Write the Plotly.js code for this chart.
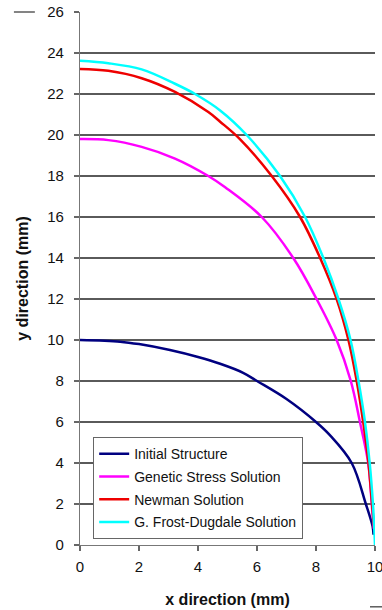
<!DOCTYPE html>
<html>
<head>
<meta charset="utf-8">
<script src="https://cdn.plot.ly/plotly-3.0.1.min.js"></script>
<style>html,body{margin:0;padding:0;background:#fff;}#chart{width:382px;height:610px;}</style>
</head>
<body>
<div id="chart"></div>
<script>
// Series data
var seriesNames = ["Initial Structure", "Genetic Stress Solution", "Newman Solution", "G. Frost-Dugdale Solution"];
var initialX = [0, 1.36, 2, 3.05, 4, 4.75, 5.53, 6, 7, 8, 8.47, 9.21, 9.69, 9.92, 9.95];
var initialY = [10, 9.92, 9.8, 9.51, 9.17, 8.84, 8.40, 8.0, 7.12, 6.0, 5.36, 4.0, 2.0, 0.9, 0.5];
var geneticX = [0, 0.96, 2.09, 3.22, 4.35, 4.92, 6.16, 7.23, 8.02, 8.70, 9.18, 9.49, 9.77, 9.89, 9.96];
var geneticY = [19.8, 19.75, 19.42, 18.85, 18.0, 17.45, 16, 14, 12, 10, 8, 6, 4, 2, 0.8];
var newmanX = [0, 0.96, 2.09, 3.22, 4.35, 4.75, 5.42, 6.5, 7.46, 8.14, 8.70, 9.10, 9.38, 9.60, 9.78, 9.90, 9.97];
var newmanY = [23.22, 23.13, 22.77, 22.1, 21.12, 20.65, 19.8, 18, 16, 14, 12, 10, 8, 6, 4, 2, 0.8];
var frostX = [0, 0.96, 2.09, 3.22, 3.9, 4.75, 5.65, 6.78, 7.63, 8.25, 8.76, 9.17, 9.44, 9.66, 9.82, 9.93, 10];
var frostY = [23.62, 23.5, 23.2, 22.5, 22.0, 21.2, 20, 18, 16, 14, 12, 10, 8, 6, 4, 2, 0];
var xTicks = [0, 2, 4, 6, 8, 10];
var yTicks = [0, 2, 4, 6, 8, 10, 12, 14, 16, 18, 20, 22, 24, 26];
var xRange = [0, 10];
var yRange = [0, 26];

var colors = ["#000080", "#FF00FF", "#EE0000", "#00FFFF"];
var xs = [initialX, geneticX, newmanX, frostX];
var ys = [initialY, geneticY, newmanY, frostY];

var font = "Arial, 'Liberation Sans', sans-serif";

var traces = [];
seriesNames.forEach(function (n, i) {
  traces.push({
    x: xs[i], y: ys[i], name: n, type: "scatter", mode: "lines",
    line: {color: colors[i], width: 2.5, shape: "spline", smoothing: 1},
    legendgroup: "g" + i
  });
});

var layout = {
  width: 382, height: 610,
  margin: {l: 80, r: 7, t: 12, b: 65, pad: 0},
  paper_bgcolor: "#fff", plot_bgcolor: "#fff",
  font: {family: font, color: "#111", size: 15},
  showlegend: true,
  legend: {
    x: 0.044, y: 0.2026, xanchor: "left", yanchor: "top",
    bgcolor: "#fff", bordercolor: "#666", borderwidth: 1.2,
    font: {family: font, size: 14, color: "#111"},
    tracegroupgap: 1.5, traceorder: "grouped"
  },
  xaxis: {
    range: xRange, tickvals: xTicks, ticktext: xTicks.map(String),
    showgrid: false, zeroline: false,
    showline: true, linecolor: "#777", linewidth: 1.2,
    ticks: "outside", ticklen: 5, tickwidth: 1.5, tickcolor: "#666",
    ticklabeloverflow: "allow", ticklabelstandoff: 3,
    tickfont: {size: 15, color: "#111"},
    title: {text: "<b>x direction (mm)</b>", font: {size: 16, color: "#111"}, standoff: 19}
  },
  yaxis: {
    range: yRange, tickvals: yTicks, ticktext: yTicks.map(String),
    showgrid: true, gridcolor: "#5a5a5a", gridwidth: 1.5, zeroline: false,
    showline: true, linecolor: "#777", linewidth: 1.2,
    ticks: "outside", ticklen: 5, tickwidth: 1.5, tickcolor: "#666",
    ticklabelstandoff: 7,
    tickfont: {size: 15, color: "#111"},
    title: {text: "<b>y direction (mm)</b>", font: {size: 16, color: "#111"}, standoff: 14}
  },
  shapes: [
    {type: "line", xref: "paper", yref: "paper", x0: -0.224, x1: -0.153, y0: 1, y1: 1, line: {color: "#333", width: 1.2}},
    {type: "line", xref: "paper", yref: "paper", x0: 0.983, x1: 1.03, y0: -0.116, y1: -0.116, line: {color: "#333", width: 1.2}}
  ]
};

Plotly.newPlot("chart", traces, layout, {displayModeBar: false});
</script>
</body>
</html>
